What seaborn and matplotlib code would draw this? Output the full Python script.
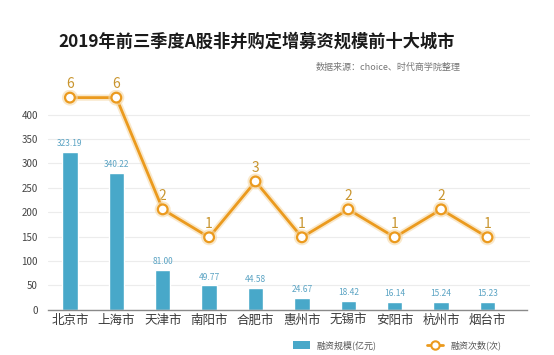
import matplotlib

matplotlib.use("Agg")

import matplotlib.pyplot as plt
import matplotlib.patheffects as pe
from matplotlib.lines import Line2D
from matplotlib.patches import Patch
import pandas as pd
import seaborn as sns

CITIES = ["北京市", "上海市", "天津市", "南阳市", "合肥市", "惠州市", "无锡市", "安阳市", "杭州市", "烟台市"]
# bar heights as drawn in the source chart (Shanghai bar is drawn lower than its label)
BAR_HEIGHTS = [323.19, 280.0, 81.00, 49.77, 44.58, 24.67, 18.42, 16.14, 15.24, 15.23]
BAR_LABELS = ["323.19", "340.22", "81.00", "49.77", "44.58", "24.67", "18.42", "16.14", "15.24", "15.23"]
DEAL_COUNTS = [6, 6, 2, 1, 3, 1, 2, 1, 2, 1]
Y_TICKS = [0, 50, 100, 150, 200, 250, 300, 350, 400]

BAR_COLOR = "#48a8c9"
LINE_COLOR = "#eb9a1e"
COUNT_TEXT = "#c9952e"
BAR_TEXT = "#5aa3c3"


def main() -> None:
    sns.set_theme(style="white")
    plt.rcParams["font.family"] = ["Noto Sans CJK SC", "DejaVu Sans"]

    df = pd.DataFrame({"city": CITIES, "amount": BAR_HEIGHTS, "count": DEAL_COUNTS})

    fig = plt.figure(figsize=(5.54, 3.55), dpi=100)
    ax = fig.add_axes([0.086, 0.1276, 0.871, 0.618])

    sns.barplot(data=df, x="city", y="amount", color=BAR_COLOR, width=0.33,
                saturation=1, ax=ax, zorder=2)
    for patch, label in zip(ax.patches, BAR_LABELS):
        ax.text(patch.get_x() + patch.get_width() / 2, patch.get_height() + 8, label,
                ha="center", va="bottom", fontsize=6, color=BAR_TEXT)

    ax.set_ylim(0, 450)
    ax.set_yticks(Y_TICKS)
    ax.set_xlim(-0.48, 9.92)
    ax.yaxis.grid(True, color="#ececec", linewidth=0.8, zorder=0)
    ax.set_axisbelow(True)
    for side in ["top", "right", "left"]:
        ax.spines[side].set_visible(False)
    ax.spines["bottom"].set_color("#8a8a8a")
    ax.spines["bottom"].set_linewidth(1.0)
    ax.spines["bottom"].set_bounds(-0.48, 9.85)
    ax.tick_params(axis="y", labelsize=7, colors="#444444", length=0, pad=7)
    ax.tick_params(axis="x", labelsize=9, colors="#3a3a3a", length=0, pad=3)
    ax.set_xlabel("")
    ax.set_ylabel("")

    ax2 = ax.twinx()
    sns.lineplot(data=df, x="city", y="count", color=LINE_COLOR, linewidth=2.0,
                 marker="o", markersize=7, markerfacecolor="white",
                 markeredgecolor=LINE_COLOR, markeredgewidth=1.6, ax=ax2, zorder=5,
                 path_effects=[pe.Stroke(linewidth=4.5, foreground="#f6d9a8", alpha=0.6), pe.Normal()])
    ax2.set_ylim(-91.2 / 57.3, (450 - 91.2) / 57.3)
    ax2.set_xlim(-0.48, 9.92)
    ax2.axis("off")
    for i, n in enumerate(DEAL_COUNTS):
        ax2.text(i, n + 0.22, str(n), ha="center", va="bottom", fontsize=10, color=COUNT_TEXT)

    fig.text(0.464, 0.882, "2019年前三季度A股非并购定增募资规模前十大城市", ha="center", va="center",
             fontsize=12.4, fontweight="bold", color="#1a1a1a")
    fig.text(0.832, 0.81, "数据来源：choice、时代商学院整理", ha="right", va="center",
             fontsize=6.5, color="#777777")

    handles = [
        Patch(facecolor=BAR_COLOR, edgecolor="none"),
        Line2D([], [], color=LINE_COLOR, linewidth=2.0, marker="o", markersize=6,
               markerfacecolor="white", markeredgecolor=LINE_COLOR, markeredgewidth=1.5),
    ]
    fig.legend(handles, ["融资规模(亿元)", "融资次数(次)"], loc="center", ncol=2,
               bbox_to_anchor=(0.717, 0.028), frameon=False, fontsize=6.5,
               labelcolor="#555555", columnspacing=5.5, handlelength=1.8,
               handleheight=0.9, handletextpad=0.8)

    fig.savefig("out.png", dpi=100)
    plt.close(fig)


if __name__ == "__main__":
    main()
